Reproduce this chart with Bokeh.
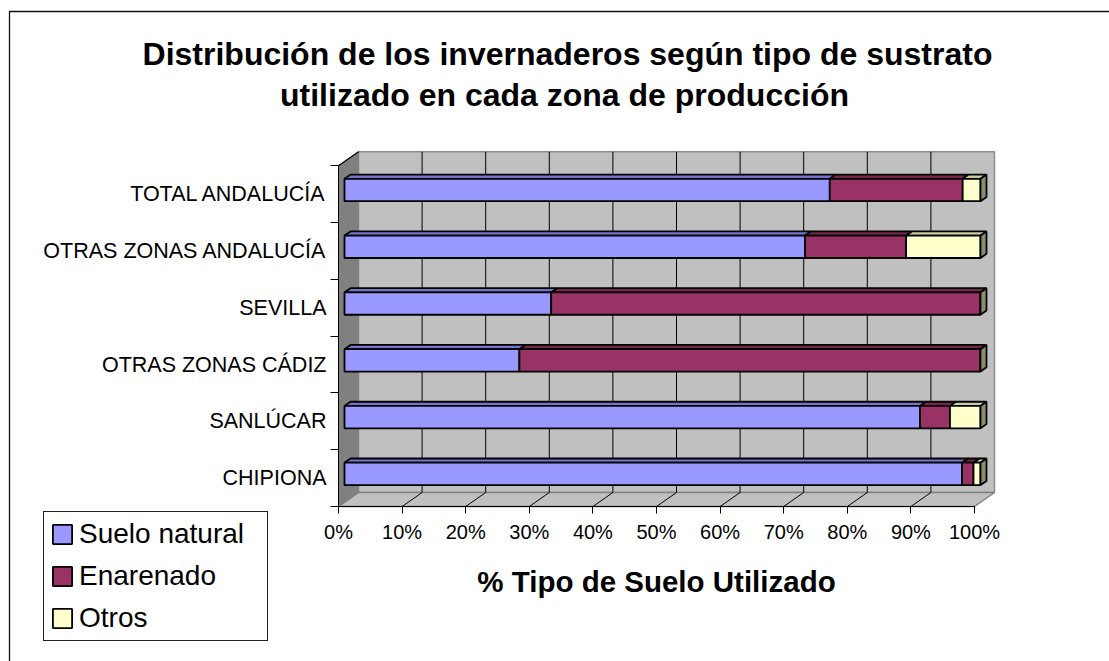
from bokeh.plotting import figure
from bokeh.models import Range1d, FixedTicker, Label, Legend, LegendItem, PolyAnnotation
from bokeh.embed import file_html
from bokeh.resources import INLINE

# ---------------- data ----------------
categories = ["CHIPIONA", "SANLÚCAR", "OTRAS ZONAS CÁDIZ", "SEVILLA",
              "OTRAS ZONAS ANDALUCÍA", "TOTAL ANDALUCÍA"]
suelo_natural = [97.1, 90.5, 27.5, 32.5, 72.4, 76.3]
enarenado = [1.8, 4.7, 72.5, 67.5, 15.9, 20.9]
otros = [1.1, 4.8, 0.0, 0.0, 11.7, 2.8]
series_names = ["Suelo natural", "Enarenado", "Otros"]
x_ticks = [0, 10, 20, 30, 40, 50, 60, 70, 80, 90, 100]
x_tick_labels = ["0%", "10%", "20%", "30%", "40%", "50%", "60%", "70%", "80%", "90%", "100%"]
title_lines = ["Distribución de los invernaderos según tipo de sustrato",
               "utilizado en cada zona de producción"]
x_axis_title = "% Tipo de Suelo Utilizado"

# ---------------- style / geometry ----------------
FONT = "Liberation Sans"
front_colors = ["#9999FF", "#993366", "#FFFFCC"]
top_colors = ["#7474CC", "#74264D", "#CCCCA3"]
end_color = "#8C8C70"
W, H = 1109, 661
ORIGIN_X, ORIGIN_Y = 338, 506   # canvas px of (0 %, bottom of category axis)
PX_PCT = 6.36                   # px per percent
PX_CAT = 56.78                  # px per category
DX = 20 / PX_PCT                # full 3-D depth, in percent units
DY = 14 / PX_CAT                # full 3-D depth, in category units
D0, D1 = 0.3, 0.6               # bar front / back depth
HALF = 0.197                    # half bar height (category units)
BAR_LW = 1.8


def px(cx):
    return (cx - ORIGIN_X) / PX_PCT


def py(cy):
    return (ORIGIN_Y - cy) / PX_CAT


n = len(categories)
ypos = [i + 0.5 for i in range(n)]

p = figure(width=W, height=H, output_backend="svg", toolbar_location=None,
           x_range=Range1d(px(0), px(W)), y_range=Range1d(py(H), py(0)),
           min_border=0, min_border_left=0, min_border_right=0,
           min_border_top=0, min_border_bottom=0, title=None)
p.outline_line_color = None
p.grid.visible = False
p.background_fill_color = "white"
p.border_fill_color = "white"

# ---------------- 3D walls ----------------
p.quad(left=[DX], right=[100 + DX], bottom=[DY], top=[n + DY],
       fill_color="#C0C0C0", line_color="#8C8C8C", line_width=1.5)
p.patch([0, 100, 100 + DX, DX], [0, 0, DY, DY],
        fill_color="#C0C0C0", line_color="#808080", line_width=1.5)
p.patch([0, 0, DX, DX], [0, n, n + DY, DY],
        fill_color="#808080", line_color="#808080", line_width=1)
p.line([0, DX], [n, n + DY], line_color="black", line_width=1.2)
grid_t = [t for t in x_ticks if 0 < t < 100]
p.segment(x0=[t + DX for t in grid_t], y0=[DY] * len(grid_t),
          x1=[t + DX for t in grid_t], y1=[n + DY] * len(grid_t),
          line_color="black", line_width=1)
p.segment(x0=grid_t, y0=[0] * len(grid_t),
          x1=[t + DX for t in grid_t], y1=[DY] * len(grid_t),
          line_color="black", line_width=1)

# ---------------- bars ----------------
series = [suelo_natural, enarenado, otros]
starts = [0.0] * n
front_renderers = []
for k, vals in enumerate(series):
    s = list(starts)
    e = [a + b for a, b in zip(s, vals)]
    xs_top, ys_top = [], []
    for i in range(n):
        yt = ypos[i] + HALF
        xs_top.append([s[i] + D0 * DX, e[i] + D0 * DX, e[i] + D1 * DX, s[i] + D1 * DX])
        ys_top.append([yt + D0 * DY, yt + D0 * DY, yt + D1 * DY, yt + D1 * DY])
    p.patches(xs_top, ys_top, fill_color=top_colors[k], line_color="black", line_width=BAR_LW)
    r = p.quad(left=[v + D0 * DX for v in s], right=[v + D0 * DX for v in e],
               bottom=[y - HALF + D0 * DY for y in ypos],
               top=[y + HALF + D0 * DY for y in ypos],
               fill_color=front_colors[k], line_color="black", line_width=BAR_LW)
    front_renderers.append(r)
    starts = e

xs_end, ys_end = [], []
for i in range(n):
    xe = starts[i]
    xs_end.append([xe + D0 * DX, xe + D0 * DX, xe + D1 * DX, xe + D1 * DX])
    ys_end.append([ypos[i] - HALF + D0 * DY, ypos[i] + HALF + D0 * DY,
                   ypos[i] + HALF + D1 * DY, ypos[i] - HALF + D1 * DY])
p.patches(xs_end, ys_end, fill_color=end_color, line_color="black", line_width=BAR_LW)

# ---------------- axes (fixed inside the frame) ----------------
xa = p.xaxis[0]
xa.fixed_location = 0
xa.ticker = FixedTicker(ticks=x_ticks, minor_ticks=[])
xa.bounds = (0, 100)
xa.major_label_overrides = {t: lab for t, lab in zip(x_ticks, x_tick_labels)}
xa.major_tick_out = 7
xa.major_tick_in = 0
xa.minor_tick_out = 0
xa.minor_tick_in = 0
xa.major_label_standoff = 7
xa.major_label_text_font = FONT
xa.major_label_text_font_size = "20px"
xa.major_label_text_color = "black"
xa.axis_line_color = "black"
xa.major_tick_line_color = "black"
xa.axis_label = x_axis_title
xa.axis_label_text_font = FONT
xa.axis_label_text_font_style = "bold"
xa.axis_label_text_font_size = "29.5px"
xa.axis_label_text_color = "black"
xa.axis_label_standoff = 19

ya = p.yaxis[0]
ya.fixed_location = 0
ya.ticker = FixedTicker(ticks=ypos, minor_ticks=[float(i) for i in range(n + 1)])
ya.bounds = (0, n)
ya.major_label_overrides = {y: c for y, c in zip(ypos, categories)}
ya.major_tick_out = 0
ya.major_tick_in = 0
ya.minor_tick_out = 8
ya.minor_tick_in = 0
ya.major_label_standoff = 4
ya.major_label_text_font = FONT
ya.major_label_text_font_size = "21.5px"
ya.major_label_text_color = "black"
ya.axis_line_color = "black"
ya.minor_tick_line_color = "black"

# ---------------- titles ----------------
p.add_layout(Label(x=px(567), y=py(53), text=title_lines[0], text_align="center",
                   text_baseline="alphabetic", text_font=FONT, text_font_style="bold",
                   text_font_size="32px", text_color="black"))
p.add_layout(Label(x=px(564), y=py(94), text=title_lines[1], text_align="center",
                   text_baseline="alphabetic", text_font=FONT, text_font_style="bold",
                   text_font_size="32px", text_color="black"))

# ---------------- outer chart border ----------------
p.add_layout(PolyAnnotation(xs=[px(9), px(9), px(1300), px(1300)],
                            ys=[py(900), py(11), py(11), py(900)],
                            fill_alpha=0, line_color="#111111", line_alpha=1,
                            line_width=1.3))

# ---------------- legend ----------------
legend = Legend(items=[LegendItem(label=nm, renderers=[r])
                       for nm, r in zip(series_names, front_renderers)],
                location=(43, H - 641),
                label_text_font=FONT, label_text_font_size="28px",
                label_text_color="black",
                glyph_width=24, glyph_height=24, label_standoff=5,
                padding=6, spacing=10, margin=0, label_width=182,
                border_line_color="#222222", border_line_width=1, border_line_alpha=1,
                background_fill_color="white", background_fill_alpha=1)
p.add_layout(legend, "center")

open("out.html", "w").write(file_html(p, INLINE))
